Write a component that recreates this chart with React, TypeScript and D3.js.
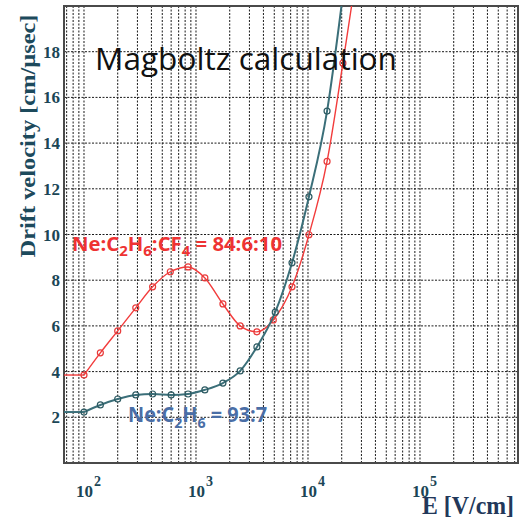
import { useEffect, useRef } from "react";
import * as d3 from "d3";

// field strength E [V/cm] at the markers
const redE = [100, 140, 200, 290, 410, 590, 850, 1200, 1740, 2480, 3500, 4900, 7200, 10200, 14800, 20500];
const redV = [3.85, 4.82, 5.78, 6.79, 7.71, 8.37, 8.58, 8.1, 6.96, 6.0, 5.74, 6.26, 7.71, 9.99, 13.2, 17.5];
const tealE = [100, 140, 200, 290, 410, 600, 850, 1200, 1740, 2480, 3500, 5100, 7200, 10200, 14800];
const tealV = [2.23, 2.54, 2.8, 2.98, 3.02, 2.98, 3.02, 3.2, 3.5, 4.03, 5.08, 6.6, 8.76, 11.65, 15.4];
// where the curves leave the top of the frame
const redTail = { E: 24500, v: 20 };
const tealTail = { E: 19900, v: 20 };

const yTicks = [2, 4, 6, 8, 10, 12, 14, 16, 18];
const xDecades = [2, 3, 4, 5];

const W = 520;
const H = 518;

const App = () => {
  const ref = useRef<SVGSVGElement>(null);

  useEffect(() => {
    const svg = d3.select(ref.current);
    svg.selectAll("*").remove();

    const left = 64, right = 518, top = 6, bottom = 463;
    const x = d3.scaleLog().domain([66.3, 750000]).range([left, right]);
    const y = d3.scaleLinear().domain([0, 20]).range([bottom, top]);

    svg.append("rect").attr("width", W).attr("height", H).attr("fill", "#fff");

    svg
      .append("defs")
      .append("clipPath")
      .attr("id", "plot")
      .append("rect")
      .attr("x", left)
      .attr("y", top)
      .attr("width", right - left)
      .attr("height", bottom - top);

    // vertical grid, every integer multiple of each decade
    const gridX: number[] = [];
    for (let d = 1; d <= 5; d++) {
      for (let m = 1; m <= 9; m++) {
        const v = m * Math.pow(10, d);
        if (v > 66.3 * 1.02 && v < 750000 * 0.98) gridX.push(v);
      }
    }
    svg
      .append("g")
      .selectAll("line")
      .data(gridX)
      .enter()
      .append("line")
      .attr("x1", (d) => x(d))
      .attr("x2", (d) => x(d))
      .attr("y1", top)
      .attr("y2", bottom)
      .attr("stroke", "#1a1a1a")
      .attr("stroke-width", 1)
      .attr("stroke-dasharray", "2,1.5");

    svg
      .append("g")
      .selectAll("line")
      .data(yTicks)
      .enter()
      .append("line")
      .attr("x1", left)
      .attr("x2", right)
      .attr("y1", (d) => y(d))
      .attr("y2", (d) => y(d))
      .attr("stroke", "#1a1a1a")
      .attr("stroke-width", 1)
      .attr("stroke-dasharray", "2,1.5");

    // frame
    svg
      .append("rect")
      .attr("x", left)
      .attr("y", top)
      .attr("width", right - left)
      .attr("height", bottom - top)
      .attr("fill", "none")
      .attr("stroke", "#4a4a4a")
      .attr("stroke-width", 2);

    // y tick labels
    svg
      .append("g")
      .selectAll("text")
      .data(yTicks)
      .enter()
      .append("text")
      .attr("x", left - 4)
      .attr("y", (d) => y(d) + 6)
      .attr("text-anchor", "end")
      .attr("font-family", "Liberation Serif, serif")
      .attr("font-weight", "bold")
      .attr("font-size", 17)
      .attr("fill", "#1b4656")
      .text((d) => d);

    // x tick labels 10^n
    const xt = svg
      .append("g")
      .selectAll("text")
      .data(xDecades)
      .enter()
      .append("text")
      .attr("x", (d) => x(Math.pow(10, d)) - 8)
      .attr("y", 497)
      .attr("font-family", "Liberation Serif, serif")
      .attr("font-weight", "bold")
      .attr("font-size", 17)
      .attr("fill", "#1b4656");
    xt.append("tspan").text("10");
    xt.append("tspan").attr("dx", 1).attr("dy", -11).attr("font-size", 14).text((d) => d);

    // axis titles
    svg
      .append("text")
      .attr("transform", "translate(35,136) rotate(-90)")
      .attr("text-anchor", "middle")
      .attr("font-family", "Liberation Serif, serif")
      .attr("font-weight", "bold")
      .attr("font-size", 22)
      .attr("fill", "#1d4a5c")
      .attr("textLength", 243)
      .attr("lengthAdjust", "spacingAndGlyphs")
      .text("Drift velocity [cm/\u03bcsec]");

    svg
      .append("text")
      .attr("x", 422)
      .attr("y", 514)
      .attr("font-family", "Liberation Serif, serif")
      .attr("font-weight", "bold")
      .attr("font-size", 25)
      .attr("fill", "#22385a")
      .attr("textLength", 92)
      .attr("lengthAdjust", "spacingAndGlyphs")
      .text("E [V/cm]");

    // curves
    const plot = svg.append("g").attr("clip-path", "url(#plot)");
    const line = d3
      .line<{ E: number; v: number }>()
      .x((d) => x(d.E))
      .y((d) => y(d.v))
      .curve(d3.curveMonotoneX);

    const series = [
      { E: redE, V: redV, tail: redTail, color: "#f23c3c", width: 1.4, mark: "#e83a3a" },
      { E: tealE, V: tealV, tail: tealTail, color: "#3b6f79", width: 2, mark: "#2c5a62" },
    ];
    series.forEach((s) => {
      const pts = s.E.map((e, i) => ({ E: e, v: s.V[i] }));
      // flat lead-in from the left edge
      plot
        .append("line")
        .attr("x1", left)
        .attr("x2", x(pts[0].E))
        .attr("y1", y(pts[0].v))
        .attr("y2", y(pts[0].v))
        .attr("stroke", s.color)
        .attr("stroke-width", s.width);
      plot
        .append("path")
        .datum([...pts, s.tail])
        .attr("fill", "none")
        .attr("stroke", s.color)
        .attr("stroke-width", s.width)
        .attr("d", line);
      plot
        .append("g")
        .selectAll("circle")
        .data(pts)
        .enter()
        .append("circle")
        .attr("cx", (d) => x(d.E))
        .attr("cy", (d) => y(d.v))
        .attr("r", 3)
        .attr("fill", "none")
        .attr("stroke", s.mark)
        .attr("stroke-width", 1.2);
    });

    // annotations
    svg
      .append("text")
      .attr("x", 95)
      .attr("y", 70)
      .attr("font-family", "Open Sans, sans-serif")
      .attr("font-size", 31)
      .attr("fill", "#111")
      .attr("textLength", 302)
      .attr("lengthAdjust", "spacingAndGlyphs")
      .text("Magboltz calculation");

    const redLab = svg
      .append("text")
      .attr("x", 72)
      .attr("y", 251)
      .attr("font-family", "Open Sans, sans-serif")
      .attr("font-weight", "bold")
      .attr("font-size", 19)
      .attr("fill", "#ee3333")
      .attr("textLength", 210)
      .attr("lengthAdjust", "spacingAndGlyphs");
    redLab.append("tspan").text("Ne:C");
    redLab.append("tspan").attr("dy", 5).attr("font-size", 14).text("2");
    redLab.append("tspan").attr("dy", -5).text("H");
    redLab.append("tspan").attr("dy", 5).attr("font-size", 14).text("6");
    redLab.append("tspan").attr("dy", -5).text(":CF");
    redLab.append("tspan").attr("dy", 5).attr("font-size", 14).text("4");
    redLab.append("tspan").attr("dy", -5).text(" = 84:6:10");

    const tealLab = svg
      .append("text")
      .attr("x", 128)
      .attr("y", 422)
      .attr("font-family", "Open Sans, sans-serif")
      .attr("font-weight", "bold")
      .attr("font-size", 21)
      .attr("fill", "#4a6ea6")
      .attr("textLength", 139)
      .attr("lengthAdjust", "spacingAndGlyphs");
    tealLab.append("tspan").text("Ne:C");
    tealLab.append("tspan").attr("dy", 6).attr("font-size", 15).text("2");
    tealLab.append("tspan").attr("dy", -6).text("H");
    tealLab.append("tspan").attr("dy", 6).attr("font-size", 15).text("6");
    tealLab.append("tspan").attr("dy", -6).text(" = 93:7");
  }, []);

  return (
    <svg
      ref={ref}
      width={W}
      height={H}
      style={{ position: "absolute", left: 0, top: 0 }}
    />
  );
};

export default App;
